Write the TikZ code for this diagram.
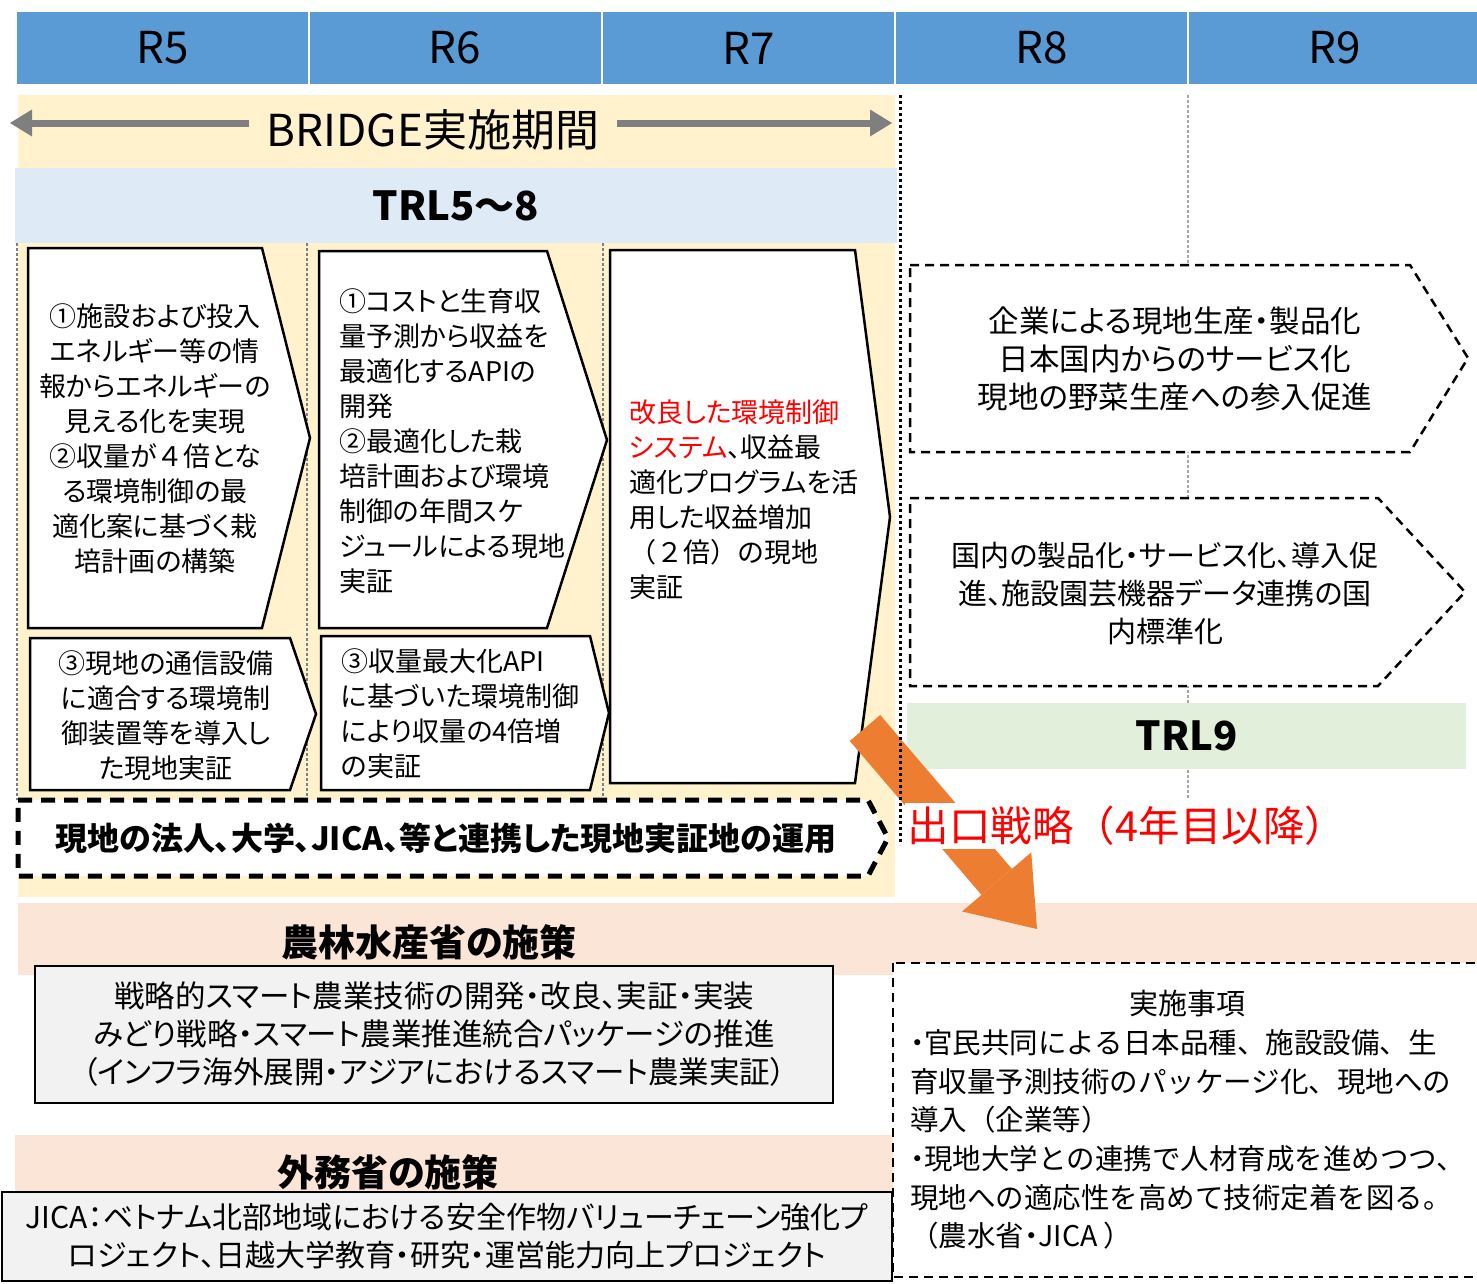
\documentclass[tikz,border=0pt]{standalone}
\usepackage{fontspec}
\setmainfont{Noto Sans CJK JP}[RawFeature=+palt]
\newfontfamily\widefont{Noto Sans CJK JP}
\usetikzlibrary{arrows.meta}

\definecolor{yearblue}{HTML}{5B9BD5}
\definecolor{bridgeyellow}{HTML}{FFF2CC}
\definecolor{trlblue}{HTML}{DEEBF7}
\definecolor{trlgreen}{HTML}{E2EFDA}
\definecolor{policypink}{HTML}{FBE5D6}
\definecolor{policygray}{HTML}{F2F2F2}
\definecolor{exitorange}{HTML}{ED7D31}
\definecolor{spangray}{HTML}{7F7F7F}

% narrow bullet
\newcommand\pdot{{\rmfamily ・}}

\begin{document}
\begin{tikzpicture}[x=1pt,y=-1pt,
    year/.style={fill=yearblue,minimum width=291pt,minimum height=72pt,inner sep=0pt,font=\fontsize{44}{52}\selectfont},
    band/.style={inner sep=0pt,font=\bfseries\fontsize{40}{48}\selectfont},
    policy/.style={inner sep=0pt,font=\bfseries\fontsize{37}{44}\selectfont},
    txt/.style={inner sep=0pt,font=\fontsize{27}{35}\selectfont},
    goaltxt/.style={inner sep=0pt,font=\fontsize{#1}{38}\selectfont,align=center},
    stepbox/.style={draw,line width=2.5pt,fill=white,line join=miter},
    goalbox/.style={draw,line width=2.5pt,fill=white,dash pattern=on 9pt off 6pt},
    sepline/.style={spangray,line width=2.5pt,dash pattern=on 2.5pt off 2.5pt},
    ]

    \useasboundingbox (0,0) rectangle (1477,1283);

    %%%%%%%%%%%%%%%%%%%%%%%%%%%%%%%%%%%%%%%%%%%%%%%%%%%%%%

    % fiscal years
    \node[year] (yrR5) at (162.5,48) {R5};
    \node[year] (yrR6) at (455,48) {R6};
    \node[year] (yrR7) at (748.5,48) {R7};
    \node[year] (yrR8) at (1041.5,48) {R8};
    \node[year] (yrR9) at (1334.5,48) {R9};

    %%%%%%%%%%%%%%%%%%%%%%%%%%%%%%%%%%%%%%%%%%%%%%%%%%%%%%

    % BRIDGE period
    \fill[bridgeyellow] (18,95) rectangle (895,897);
    \node[fill=bridgeyellow,inner xsep=18pt,inner ysep=2pt,font=\fontsize{44}{52}\selectfont] (bridge) at (433,130) {BRIDGE実施期間};
    \coordinate (bridgeL) at (10,123);
    \coordinate (bridgeR) at (892,123);
    \draw[spangray,line width=7pt,-{Triangle[length=22pt,width=27pt,line width=0pt]}] (bridge.west |- bridgeL) -- (bridgeL);
    \draw[spangray,line width=7pt,-{Triangle[length=22pt,width=27pt,line width=0pt]}] (bridge.east |- bridgeR) -- (bridgeR);

    % TRL 5-8
    \node[band,fill=trlblue,minimum width=882pt,minimum height=75pt] (trl58) at (456,205.5) {TRL5～8};

    % year dividers
    \draw[sepline] (17,243) -- (17,800);
    \draw[sepline] (307,243) -- (307,800);
    \draw[sepline] (603,243) -- (603,800);

    %%%%%%%%%%%%%%%%%%%%%%%%%%%%%%%%%%%%%%%%%%%%%%%%%%%%%%

    % R5 steps
    \draw[stepbox] (28,248) -- (262,248) -- (310,438) -- (262,628) -- (28,628) -- cycle;
    \node[txt,align=center] (stepA) at (155,439) {①施設および投入\\エネルギー等の情\\報からエネルギーの\\見える化を実現\\②収量が{\widefont ４}倍とな\\る環境制御の最\\適化案に基づく栽\\培計画の構築};
    \draw[stepbox] (30,638) -- (290,638) -- (316,714) -- (290,790) -- (30,790) -- cycle;
    \node[txt,align=center] (stepB) at (166,715.5) {③現地の通信設備\\に適合する環境制\\御装置等を導入し\\た現地実証};

    % R6 steps
    \draw[stepbox] (319,251) -- (547,251) -- (607,440) -- (547,628) -- (319,628) -- cycle;
    \node[txt,align=left,anchor=west] (stepC) at (339,441) {①コストと生育収\\量予測から収益を\\最適化するAPIの\\開発\\②最適化した栽\\培計画および環境\\制御の年間スケ\\ジュールによる現地\\実証};
    \draw[stepbox] (321,636) -- (590,636) -- (609,713) -- (590,790) -- (321,790) -- cycle;
    \node[txt,align=left,anchor=west] (stepD) at (341,713.5) {③収量最大化API\\に基づいた環境制御\\により収量の4倍増\\の実証};

    % R7 step
    \draw[stepbox] (610,250) -- (855,250) -- (890,517) -- (855,783) -- (610,783) -- cycle;
    \node[txt,align=left,anchor=west] (stepE) at (629,499.5) {\color{red}改良した環境制御\\{\color{red}システム}、収益最\\適化プログラムを活\\用した収益増加\\{\widefont （２倍）の現地}\\実証};

    % field site operation
    \draw[draw,line width=5pt,fill=white,dash pattern=on 14pt off 9pt] (18,800) -- (868,800) -- (888,838) -- (868,876) -- (18,876) -- cycle;
    \node[inner sep=0pt,font=\bfseries\fontsize{32}{38}\selectfont] (fieldops) at (446,838) {現地の法人、大学、JICA、等と連携した現地実証地の運用};

    %%%%%%%%%%%%%%%%%%%%%%%%%%%%%%%%%%%%%%%%%%%%%%%%%%%%%%

    % R8-R9 goals
    \draw[sepline,gray!70] (1188,95) -- (1188,800);
    \draw[goalbox] (910,265) -- (1410,265) -- (1468,358) -- (1410,452) -- (910,452) -- cycle;
    \node[goaltxt=30.5] (goalA) at (1175,359) {企業による現地生産・製品化\\日本国内からのサービス化\\現地の野菜生産への参入促進};
    \draw[goalbox] (910,498) -- (1378,498) -- (1465,592) -- (1378,686) -- (910,686) -- cycle;
    \node[goaltxt=29] (goalB) at (1165,593) {国内の製品化・サービス化、導入促\\進、施設園芸機器データ連携の国\\内標準化};

    % TRL 9
    \node[band,fill=trlgreen,minimum width=559pt,minimum height=66pt] (trl9) at (1186.5,736) {TRL9};

    %%%%%%%%%%%%%%%%%%%%%%%%%%%%%%%%%%%%%%%%%%%%%%%%%%%%%%

    % MAFF policy
    \fill[policypink] (18,903) rectangle (1477,975);
    \node[policy] (maff) at (429,942) {農林水産省の施策};
    \node[draw,line width=2.5pt,fill=policygray,minimum width=798pt,minimum height=137pt,inner sep=0pt,font=\fontsize{30.5}{38}\selectfont,align=center] (maffbox) at (434,1034.5) {戦略的スマート農業技術の開発・改良、実証・実装\\みどり戦略・スマート農業推進統合パッケージの推進\\（インフラ海外展開・アジアにおけるスマート農業実証）};

    %%%%%%%%%%%%%%%%%%%%%%%%%%%%%%%%%%%%%%%%%%%%%%%%%%%%%%

    % exit strategy
    \coordinate (exitA) at (865,728);
    \coordinate (exitB) at (1037,929);
    \draw[exitorange,line width=40pt,-{Triangle[length=62pt,width=91pt,line width=0pt]}] (exitA) -- (exitB);
    \node[fill=white,inner sep=3pt,text=red,font=\widefont\fontsize{41.5}{48}\selectfont] (exit) at (1127,826) {出口戦略（4年目以降）};
    \draw[line width=3pt,dash pattern=on 3pt off 3pt] (900,95) -- (900,845);

    %%%%%%%%%%%%%%%%%%%%%%%%%%%%%%%%%%%%%%%%%%%%%%%%%%%%%%

    % MOFA policy
    \fill[policypink] (15,1135) rectangle (893,1195);
    \node[policy] (mofa) at (388,1172) {外務省の施策};
    \node[draw,line width=2.5pt,fill=policygray,minimum width=890pt,minimum height=89pt,inner sep=0pt,font=\fontsize{30}{38}\selectfont,align=center] (mofabox) at (447,1236.5) {JICA：ベトナム北部地域における安全作物バリューチェーン強化プ\\ロジェクト、日越大学教育・研究・運営能力向上プロジェクト};

    % actions
    \draw[goalbox,line width=2pt] (893,963) rectangle (1485,1277);
    \node[inner sep=0pt,font=\widefont\fontsize{29}{38}\selectfont] (acttitle) at (1187,1003) {実施事項};
    \node[inner sep=0pt,font=\widefont\fontsize{28.5}{38.6}\selectfont,align=left,anchor=west] (actbody) at (910,1139.5) {\pdot 官民共同による日本品種、施設設備、生\\育収量予測技術のパッケージ化、現地への\\導入（企業等）\\\pdot 現地大学との連携で人材育成を進めつつ、\\現地への適応性を高めて技術定着を図る。\\（農水省\pdot JICA ）};

\end{tikzpicture}
\end{document}
